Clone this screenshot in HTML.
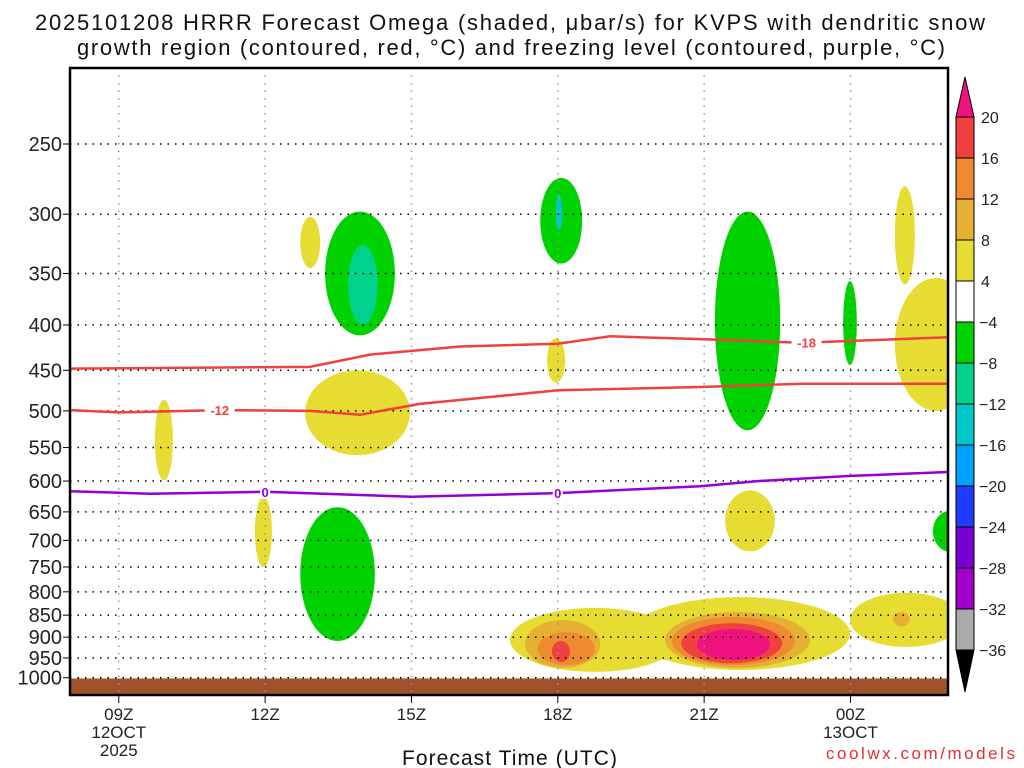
<!DOCTYPE html>
<html><head><meta charset="utf-8">
<style>
html,body{margin:0;padding:0;background:#fff;}
svg{display:block;font-family:"Liberation Sans",sans-serif;}
</style></head>
<body>
<svg id="chart" width="1024" height="768" viewBox="0 0 1024 768" xmlns="http://www.w3.org/2000/svg">
<text x="35" y="30" font-size="22" textLength="950" lengthAdjust="spacing" fill="#111">2025101208 HRRR Forecast Omega (shaded, μbar/s) for KVPS with dendritic snow</text>
<text x="77" y="55" font-size="22" textLength="868" lengthAdjust="spacing" fill="#111">growth region (contoured, red, °C) and freezing level (contoured, purple, °C)</text>
<defs><clipPath id="plotclip"><rect x="70" y="68" width="878" height="627"/></clipPath></defs>
<g id="shades" clip-path="url(#plotclip)"></g>
<g id="grid"></g>
<g id="lines" clip-path="url(#plotclip)"></g>
<rect x="70" y="68" width="878" height="627" fill="none" stroke="#000" stroke-width="2.5"/>
<g id="axes"></g>
<g id="cbar"></g>
<text x="402" y="765" font-size="21" textLength="215" lengthAdjust="spacing" fill="#111">Forecast Time (UTC)</text>
<text x="826" y="759" font-size="17" textLength="189" lengthAdjust="spacing" fill="#e03030">coolwx.com/models</text>
</svg>
<script>
// ---- data ----
const pressureLevels=[250,300,350,400,450,500,550,600,650,700,750,800,850,900,950,1000];
const timeTickHours=[1,4,7,10,13,16];
const timeTickLabels=[["09Z","12OCT","2025"],["12Z"],["15Z"],["18Z"],["21Z"],["00Z","13OCT"]];
const cbarLevels=[20,16,12,8,4,-4,-8,-12,-16,-20,-24,-28,-32,-36];
const cbarColors=["#f0127e","#f04040","#f08a30","#e6b032","#e6dc32","#ffffff","#00d200","#00d28c","#00c8c8","#00a0ff","#1e3cff","#7800d2","#a000c8","#aaaaaa","#000000"];
// blobs: omega level (lower bound of shaded band), start hour, end hour, top pressure, bottom pressure
const blobLevels=[4,4,4,4,4,4,4,4,4,4,4, 8,8,8, 12,12, 16,16, 20, -4,-4,-4,-4,-4,-4, -8, -12];
const blobStart=[4.72,1.74,4.82,3.79,9.78,13.43,16.91,16.91,9.02,11.5,15.99, 9.33,12.2,16.87, 9.59,12.34, 9.88,12.53, 12.85, 5.23,9.64,13.22,15.85,4.72,17.69, 5.70, 9.96];
const blobEnd=[5.13,2.11,6.97,4.14,10.15,14.45,17.32,18.6,12.5,15.99,18.3, 10.87,15.17,17.22, 10.76,14.86, 10.25,14.6, 14.35, 6.66,10.5,14.56,16.13,6.25,18.4, 6.31, 10.09];
const blobTop=[302,486,450,625,414,615,279,354,834,811,802, 861,843,843, 888,854, 909,868, 881, 298,273,298,357,642,648, 325, 285];
const blobBottom=[345,599,561,750,465,720,360,500,985,980,923, 975,975,875, 968,968, 960,963, 955, 411,341,526,444,909,721, 400, 313];
// contour lines
const lineHours18=[0,4.92,6.15,8,10,11.07,12.92,15,18];
const lineP18=[448,446,432,423,420,412,415,419,413];
const lineHours12=[0,1,3.07,4.92,5.95,7.17,10,12.92,15,18];
const lineP12=[499,502,499,500,505,491,474,470,466,466];
const lineHours0=[0,1.64,4,7,10,12.92,14.1,16,18];
const lineP0=[616,620,617,625,619,608,600,592,586];
const surfacePressure=1002;

// ---- axes ----
const X0=70,PXH=48.78;
const xS=h=>X0+h*PXH;
const yS=p=>144+385*Math.log(p/250);
const NS="http://www.w3.org/2000/svg";
function mk(tag,attrs,parent){const e=document.createElementNS(NS,tag);for(const k in attrs)e.setAttribute(k,attrs[k]);parent.appendChild(e);return e;}
const colorFor=v=>{if(v>=20)return cbarColors[0];if(v>=16)return cbarColors[1];if(v>=12)return cbarColors[2];if(v>=8)return cbarColors[3];if(v>=4)return cbarColors[4];
 const i=cbarLevels.indexOf(v);return cbarColors[i+1]||"#000";};

const shades=document.getElementById('shades');
blobLevels.forEach((lv,i)=>{
 const x1=xS(blobStart[i]),x2=xS(blobEnd[i]),y1=yS(blobTop[i]),y2=yS(blobBottom[i]);
 const e=mk('ellipse',{cx:(x1+x2)/2,cy:(y1+y2)/2,rx:(x2-x1)/2,ry:(y2-y1)/2,fill:colorFor(lv)},shades);
 
 
});
const sy=yS(surfacePressure);
const sf=mk('rect',{x:70,y:sy,width:878,height:695-sy,fill:'#a0522d'},shades);



const grid=document.getElementById('grid'),axes=document.getElementById('axes');
pressureLevels.forEach(p=>{
 const y=yS(p);
 const g=mk('line',{x1:70,x2:948,y1:y,y2:y,stroke:'#000','stroke-width':1.5,'stroke-dasharray':'1.5 6'},grid);
 
 
 mk('line',{x1:63,x2:70,y1:y,y2:y,stroke:'#000','stroke-width':1},axes);
 const t=mk('text',{x:62,y:y+7,'font-size':20,'text-anchor':'end',fill:'#222'},axes);
 t.textContent=p;
 
 
});
timeTickHours.forEach((h,i)=>{
 const x=xS(h);
 const g=mk('line',{x1:x,x2:x,y1:68,y2:695,stroke:'#999','stroke-width':1.5,'stroke-dasharray':'1.5 6'},grid);
 
 
 mk('line',{x1:x,x2:x,y1:695,y2:703,stroke:'#000','stroke-width':1},axes);
 timeTickLabels[i].forEach((s,j)=>{
  const t=mk('text',{x:x,y:720+j*18,'font-size':17,'text-anchor':'middle',fill:'#222'},axes);
  t.textContent=s;
  
  
 });
});

const lines=document.getElementById('lines');
function drawLine(hs,ps,color,name,labels){
 const d=hs.map((h,i)=>(i?'L':'M')+xS(h).toFixed(1)+','+yS(ps[i]).toFixed(1)).join(' ');
 const l=mk('path',{d:d,fill:'none',stroke:color,'stroke-width':2.5},lines);
 
 
 labels.forEach(([h,txt])=>{
  let k=0;while(k<hs.length-2&&hs[k+1]<h)k++;
  const f=(h-hs[k])/(hs[k+1]-hs[k]);const p=ps[k]+f*(ps[k+1]-ps[k]);
  const x=xS(h),y=yS(p);
  mk('rect',{x:x-(txt.length*5),y:y-7,width:txt.length*10,height:14,fill:'#fff'},lines);
  const t=mk('text',{x:x,y:y+5,'font-size':13,'font-weight':'bold','text-anchor':'middle',fill:color},lines);
  t.textContent=txt;
  
  
 });
}
drawLine(lineHours18,lineP18,'#f04040','contour-minus18',[[15.1,'-18']]);
drawLine(lineHours12,lineP12,'#f04040','contour-minus12',[[3.07,'-12']]);
drawLine(lineHours0,lineP0,'#9400d3','freezing-level-0',[[4,'0'],[10,'0']]);

// colorbar
const cb=document.getElementById('cbar');
const cbx=956,cbw=18,cbTop=117,cbStep=41;
const tri1=mk('path',{d:`M${cbx},${cbTop} L${cbx+cbw/2},${cbTop-40} L${cbx+cbw},${cbTop} Z`,fill:cbarColors[0],stroke:'#000','stroke-width':1},cb);


for(let i=0;i<cbarLevels.length-1;i++){
 const r=mk('rect',{x:cbx,y:cbTop+i*cbStep,width:cbw,height:cbStep,fill:cbarColors[i+1],stroke:'#000','stroke-width':1},cb);
 
 
}
const cbBot=cbTop+(cbarLevels.length-1)*cbStep;
const tri2=mk('path',{d:`M${cbx},${cbBot} L${cbx+cbw/2},${cbBot+42} L${cbx+cbw},${cbBot} Z`,fill:'#000',stroke:'#000','stroke-width':1},cb);


cbarLevels.forEach((v,i)=>{
 const t=mk('text',{x:v<0?979:981,y:cbTop+i*cbStep+6,'font-size':16,fill:'#222'},cb);
 t.textContent=v<0?'\u2212'+(-v):v;
 
 
});
</script>
</body></html>
